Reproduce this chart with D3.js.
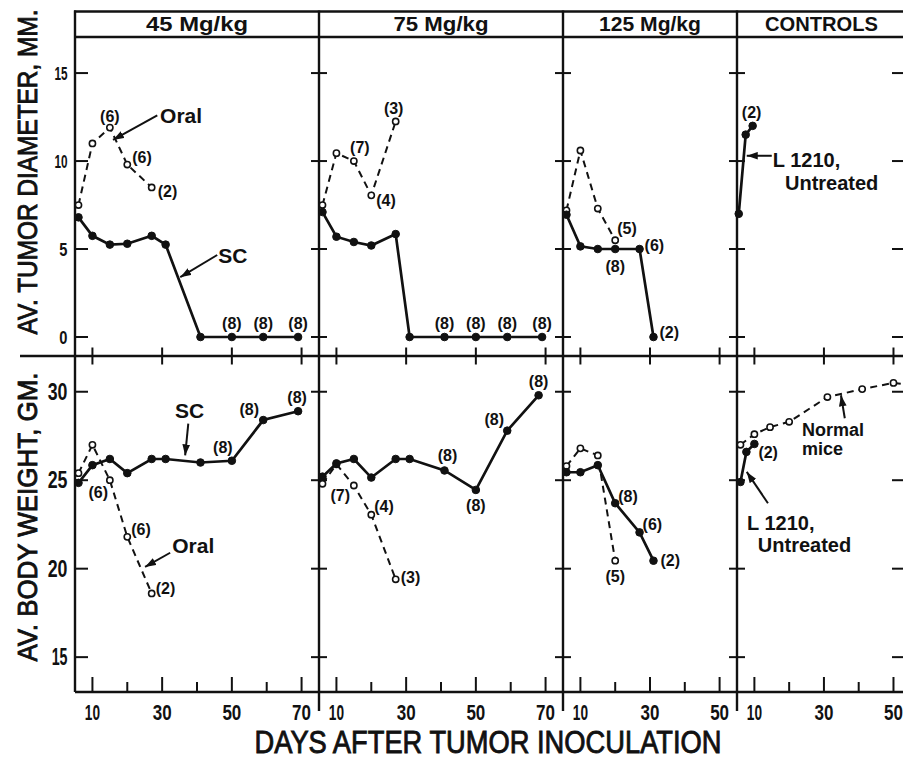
<!DOCTYPE html>
<html>
<head>
<meta charset="utf-8">
<script src="https://cdn.jsdelivr.net/npm/d3@7"></script>
<style>
  body { margin: 0; background: #fff; }
  svg { display: block; }
  text { font-family: "Liberation Sans", Arial, sans-serif; fill: #111; }
</style>
</head>
<body>
<div id="chart"></div>
<script>
// panels and ticks
const panelTitles = ["45 Mg/kg", "75 Mg/kg", "125 Mg/kg", "CONTROLS"];
const dayTicks = [[10, 20, 30, 40, 50, 60, 70], [10, 20, 30, 40, 50, 60, 70], [10, 20, 30, 40, 50], [10, 20, 30, 40, 50]];
const dayLabels = [[10, 30, 50, 70], [10, 30, 50, 70], [10, 30, 50], [10, 30, 50]];
const diamTicks = [0, 5, 10, 15];
const weightTicks = [15, 20, 25, 30];

// av. tumor diameter (mm), [day, value]
const diamSC = [
  [[6, 6.8], [10, 5.75], [15, 5.25], [20, 5.3], [27, 5.75], [31, 5.25], [41, 0], [50, 0], [59, 0], [69, 0]],
  [[6, 7.1], [10, 5.7], [15, 5.4], [20, 5.2], [27, 5.85], [31, 0], [41, 0], [50, 0], [59, 0], [69, 0]],
  [[6, 6.95], [10, 5.15], [15, 5.0], [20, 5.0], [27, 5.0], [31, 0]],
  [[5.5, 7.0], [7.5, 11.5], [9.5, 12.0]]          // L1210 untreated
];
const diamSCn = [
  [null, null, null, null, null, null, null, 8, 8, 8],
  [null, null, null, null, null, null, 8, 8, 8, 8],
  [null, null, null, 8, 6, 2],
  [null, null, 2]
];
const diamOral = [
  [[6, 7.5], [10, 11.0], [15, 11.9], [20, 9.8], [27, 8.5]],
  [[6, 7.5], [10, 10.45], [15, 10.0], [20, 8.05], [27, 12.25]],
  [[6, 7.2], [10, 10.6], [15, 7.3], [20, 5.5]],
  []
];
const diamOraln = [
  [null, null, 6, 6, 2],
  [null, null, 7, 4, 3],
  [null, null, null, 5],
  []
];

// av. body weight (gm), [day, value]
const weightSC = [
  [[6, 24.85], [10, 25.85], [15, 26.2], [20, 25.4], [27, 26.2], [31, 26.2], [41, 26.0], [50, 26.1], [59, 28.4], [69, 28.9]],
  [[6, 25.2], [10, 25.95], [15, 26.2], [20, 25.15], [27, 26.2], [31, 26.2], [41, 25.55], [50, 24.45], [59, 27.8], [68, 29.8]],
  [[6, 25.45], [10, 25.45], [15, 25.85], [20, 23.7], [27, 22.05], [31, 20.45]],
  [[6, 24.9], [7.7, 26.6], [10, 27.05]]           // L1210 untreated
];
const weightSCn = [
  [6, null, null, null, null, null, null, 8, 8, 8],
  [null, null, null, null, null, null, 8, 8, 8, 8],
  [null, null, null, 8, 6, 2],
  [null, null, 2]
];
const weightOral = [
  [[6, 25.4], [10, 27.0], [15, 25.0], [20, 21.8], [27, 18.6]],
  [[6, 24.8], [10, 25.9], [15, 24.7], [20, 23.05], [27, 19.4]],
  [[6, 25.8], [10, 26.8], [15, 26.4], [20, 20.45]],
  [[6, 27.0], [10, 27.6], [14.5, 28.0], [20, 28.3], [31, 29.7], [41, 30.15], [50, 30.5], [58, 30.3]]  // normal mice
];
const weightOraln = [
  [null, null, null, 6, 2],
  [7, null, null, 4, 3],
  [null, null, null, 5],
  []
];

// layout
const W = 903, H = 757;
const edges = [75, 319, 563, 737, 906];
const dayMax = [75, 75, 55, 53.6];
const headTop = 11.5, headBot = 37, midY = 356, baseY = 692, divBot = 711;
const ink = "#111";

const svg = d3.select("#chart").append("svg")
    .attr("width", W)
    .attr("height", H);

svg.append("defs").append("marker")
    .attr("id", "head")
    .attr("markerUnits", "userSpaceOnUse")
    .attr("viewBox", "0 0 10 7")
    .attr("refX", 10).attr("refY", 3.5)
    .attr("markerWidth", 11).attr("markerHeight", 8)
    .attr("orient", "auto")
  .append("path")
    .attr("d", "M0,0L10,3.5L0,7Z")
    .attr("fill", ink);

const xs = dayMax.map((m, i) => d3.scaleLinear().domain([5, m]).range([edges[i], edges[i + 1]]));
const yDiam = d3.scaleLinear().domain([0, 17.05]).range([337, headBot]);
const yWeight = d3.scaleLinear().domain([13.03, 32.02]).range([baseY, midY]);

function rule(x1, y1, x2, y2, w) {
  svg.append("line")
      .attr("x1", x1).attr("y1", y1).attr("x2", x2).attr("y2", y2)
      .attr("stroke", ink).attr("stroke-width", w || 2.4);
}

// frame
rule(edges[0] - 1, headTop, W + 5, headTop);
rule(edges[0], headBot, W + 5, headBot);
rule(20, midY, W + 5, midY);
rule(edges[0], baseY, W + 5, baseY);
rule(edges[0], headTop - 1, edges[0], baseY);
edges.slice(1).forEach(x => rule(x, headTop - 1, x, divBot));

// digit label width (the lettering is very narrow)
function numLen(s, fs) {
  return d3.sum(String(s).split(""), c => c === "1" ? 0.26 * fs : 0.43 * fs);
}

// y ticks on every vertical rule
[[yDiam, diamTicks, 19], [yWeight, weightTicks, 23]].forEach(([y, ticks, fs]) => {
  edges.forEach((x, k) => {
    const a = k === 0 ? x : (k === 4 ? x - 14 : x - 8);
    const b = k === 0 ? x + 13 : (k === 4 ? x : x + 8);
    ticks.forEach(t => rule(a, y(t), b, y(t), 2));
  });
  svg.append("g").selectAll("text")
    .data(ticks)
    .enter().append("text")
      .attr("x", 67.5)
      .attr("y", d => y(d))
      .attr("dy", "0.36em")
      .attr("text-anchor", "end")
      .attr("font-size", fs)
      .attr("font-weight", "bold")
      .attr("textLength", d => numLen(d, fs))
      .attr("lengthAdjust", "spacingAndGlyphs")
      .text(d => d);
});

// x ticks: crossing ones on the middle rule, upward ones on the base
xs.forEach((x, i) => {
  dayLabels[i].forEach(t => rule(x(t), midY - 8.5, x(t), midY + 8.5, 2));
  dayTicks[i].forEach(t => {
    const len = dayLabels[i].includes(t) ? 15 : 10;
    rule(x(t), baseY - len, x(t), baseY, 2);
  });
  svg.append("g").selectAll("text")
    .data(dayLabels[i])
    .enter().append("text")
      .attr("x", d => x(d))
      .attr("y", 720)
      .attr("text-anchor", "middle")
      .attr("font-size", 22)
      .attr("font-weight", "bold")
      .attr("textLength", d => numLen(d, 22))
      .attr("lengthAdjust", "spacingAndGlyphs")
      .text(d => d);
});

// panel headers
const headLen = [102, 95, 102, 113];
panelTitles.forEach((t, i) => {
  svg.append("text")
      .attr("x", (edges[i] + edges[i + 1]) / 2)
      .attr("y", 31)
      .attr("text-anchor", "middle")
      .attr("font-size", 21)
      .attr("font-weight", "bold")
      .attr("textLength", headLen[i])
      .attr("lengthAdjust", "spacingAndGlyphs")
      .text(t);
});

// axis titles
function title(txt, x, y, rot, fs, len) {
  svg.append("text")
      .attr("transform", `translate(${x},${y}) rotate(${rot})`)
      .attr("text-anchor", "middle")
      .attr("font-size", fs)
      .attr("stroke", ink).attr("stroke-width", 0.9)
      .attr("textLength", len)
      .attr("lengthAdjust", "spacingAndGlyphs")
      .text(txt);
}
title("AV. TUMOR DIAMETER, MM.", 37, 172, -90, 28, 325);
title("AV. BODY WEIGHT, GM.", 37, 517, -90, 28, 289);
title("DAYS AFTER TUMOR INOCULATION", 488, 753, 0, 32, 467);

// count label placement: [dx, dy, anchor]
const notePos = {
  "dSC0": {7: [0, -14, "middle"], 8: [0, -14, "middle"], 9: [0, -14, "middle"]},
  "dOral0": {2: [0, -11, "middle"], 3: [5, -7, "start"], 4: [6, 4, "start"]},
  "dSC1": {6: [0, -14, "middle"], 7: [0, -14, "middle"], 8: [0, -14, "middle"], 9: [0, -14, "middle"]},
  "dOral1": {2: [6, -14, "middle"], 3: [5, 5, "start"], 4: [-2, -13, "middle"]},
  "dSC2": {3: [0, 17, "middle"], 4: [5, -4, "start"], 5: [6, -5, "start"]},
  "dOral2": {3: [2, -12, "start"]},
  "dSC3": {2: [-1, -13, "middle"]},
  "wSC0": {0: [10, 10, "start"], 7: [-9, -13, "middle"], 8: [-14, -11, "middle"], 9: [-1, -14, "middle"]},
  "wOral0": {3: [4, -7, "start"], 4: [4, -5, "start"]},
  "wSC1": {6: [3, -15, "middle"], 7: [0, 15, "middle"], 8: [-13, -11, "middle"], 9: [0, -14, "middle"]},
  "wOral1": {0: [8, 12, "start"], 3: [3, -8, "start"], 4: [5, -2, "start"]},
  "wSC2": {3: [3, -7, "start"], 4: [3, -8, "start"], 5: [7, 0, "start"]},
  "wOral2": {3: [0, 16, "middle"]},
  "wSC3": {2: [4, 8, "start"]}
};

function series(pts, counts, x, y, solid, key) {
  if (!pts.length) return;
  const line = d3.line().x(d => x(d[0])).y(d => y(d[1]));
  svg.append("path")
      .attr("d", line(pts))
      .attr("fill", "none")
      .attr("stroke", ink)
      .attr("stroke-width", solid ? 2.7 : 2)
      .attr("stroke-dasharray", solid ? null : "7,5");
  svg.append("g").selectAll("circle")
    .data(pts)
    .enter().append("circle")
      .attr("cx", d => x(d[0]))
      .attr("cy", d => y(d[1]))
      .attr("r", solid ? 3.8 : 3.1)
      .attr("fill", solid ? ink : "#fff")
      .attr("stroke", ink)
      .attr("stroke-width", solid ? 1 : 1.6);
  const pos = notePos[key] || {};
  counts.forEach((n, i) => {
    if (n == null || !pos[i]) return;
    const [dx, dy, anchor] = pos[i];
    svg.append("text")
        .attr("x", x(pts[i][0]) + dx)
        .attr("y", y(pts[i][1]) + dy)
        .attr("dy", "0.35em")
        .attr("text-anchor", anchor)
        .attr("font-size", 16)
        .attr("font-weight", "bold")
        .text("(" + n + ")");
  });
}

xs.forEach((x, i) => {
  series(diamOral[i], diamOraln[i], x, yDiam, false, "dOral" + i);
  series(diamSC[i], diamSCn[i], x, yDiam, true, "dSC" + i);
  series(weightOral[i], weightOraln[i], x, yWeight, false, "wOral" + i);
  series(weightSC[i], weightSCn[i], x, yWeight, true, "wSC" + i);
});

// callouts, placed in data coordinates
function note(txt, x, y, d, v, fs) {
  svg.append("text")
      .attr("x", x(d)).attr("y", y(v))
      .attr("font-size", fs || 20)
      .attr("font-weight", "bold")
      .text(txt);
}
function arrow(x, y, d1, v1, d2, v2) {
  svg.append("line")
      .attr("x1", x(d1)).attr("y1", y(v1))
      .attr("x2", x(d2)).attr("y2", y(v2))
      .attr("stroke", ink).attr("stroke-width", 2)
      .attr("marker-end", "url(#head)");
}

note("Oral", xs[0], yDiam, 29.4, 12.16, 21);
arrow(xs[0], yDiam, 28.6, 12.6, 15.9, 11.2);
note("SC", xs[0], yDiam, 46.1, 4.2, 21);
arrow(xs[0], yDiam, 45.8, 4.66, 35.2, 3.4);
note("L 1210,", xs[3], yDiam, 15.3, 9.66);
note("Untreated", xs[3], yDiam, 18.8, 8.35);
arrow(xs[3], yDiam, 15, 10.3, 7.8, 10.3);

note("SC", xs[0], yWeight, 33.7, 28.5, 21);
arrow(xs[0], yWeight, 37.5, 28.2, 36.6, 26.4);
note("Oral", xs[0], yWeight, 32.9, 20.87, 21);
arrow(xs[0], yWeight, 32.3, 20.9, 25.1, 20.1);
note("Normal", xs[3], yWeight, 23.7, 27.5, 18);
note("mice", xs[3], yWeight, 23.7, 26.45, 18);
arrow(xs[3], yWeight, 36, 28.5, 34.9, 29.8);
note("L 1210,", xs[3], yWeight, 7.9, 22.17);
note("Untreated", xs[3], yWeight, 11, 20.93);
arrow(xs[3], yWeight, 13.9, 23.7, 7.8, 25.47);
</script>
</body>
</html>
